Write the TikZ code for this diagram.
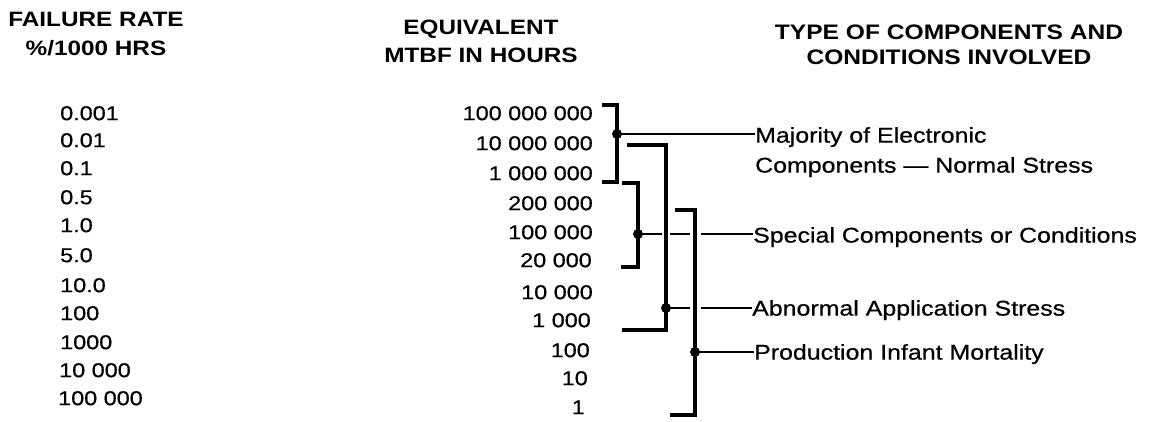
\documentclass[tikz,border=0pt]{standalone}
\usepackage{fontspec}
\setmainfont{Liberation Sans}[FakeStretch=1.17, UprightFeatures={FakeBold=0.6}]
\usetikzlibrary{positioning}

\begin{document}
\begin{tikzpicture}[x=1pt, y=-1pt,
    head/.style={align=center, inner sep=0pt, font=\bfseries\fontsize{20.8}{29}\selectfont},
    rate/.style={anchor=west, inner sep=0pt, text height=14.3pt, text depth=0pt, font=\fontsize{20}{24}\selectfont},
    mtbf/.style={rate, anchor=east},
    lab/.style={anchor=west, inner sep=0pt, text height=15.2pt, text depth=0pt, font=\fontsize{21.3}{25}\selectfont},
    brace/.style={line width=3.2pt},
    gapbrace/.style={brace, preaction={draw=white, line width=#1}},
    link/.style={line width=2pt},
    dot/.style={circle, fill, inner sep=0pt, minimum size=10pt}]
    \path[use as bounding box, fill=white] (0,0) rectangle (1152,422);

    % column heads
    \node (Hrate) [head] at (96,34.5) {FAILURE RATE\\\%/1000 HRS};
    \node (Hmtbf) [head, font=\bfseries\fontsize{20.8}{28}\selectfont] at (481,41) {EQUIVALENT\\MTBF IN HOURS};
    \node (Htype) [head, font=\bfseries\fontsize{21}{25}\selectfont] at (949,44.5) {TYPE OF COMPONENTS AND\\CONDITIONS INVOLVED};

    % failure rate column
    \node (R1) [rate] at (60,113) {0.001};
    \node (R2) [rate] at (60,140) {0.01};
    \node (R3) [rate] at (60,168) {0.1};
    \node (R4) [rate] at (60,197) {0.5};
    \node (R5) [rate] at (60,225) {1.0};
    \node (R6) [rate] at (60,255) {5.0};
    \node (R7) [rate] at (60,285) {10.0};
    \node (R8) [rate] at (60,313) {100};
    \node (R9) [rate] at (60,342) {1000};
    \node (R10) [rate] at (59,370) {10 000};
    \node (R11) [rate] at (58,398) {100 000};

    % mtbf column
    \node (M1) [mtbf] at (593,113) {100 000 000};
    \node (M2) [mtbf] at (593,143) {10 000 000};
    \node (M3) [mtbf] at (593,173) {1 000 000};
    \node (M4) [mtbf] at (593,203) {200 000};
    \node (M5) [mtbf] at (593,232) {100 000};
    \node (M6) [mtbf] at (592,260) {20 000};
    \node (M7) [mtbf] at (593,292) {10 000};
    \node (M8) [mtbf] at (591,320) {1 000};
    \node (M9) [mtbf] at (590,350) {100};
    \node (M10) [mtbf] at (588,378) {10};
    \node (M11) [mtbf] at (585,407) {1};

    % component types
    \node (Lmaj) [lab] at (755,135) {Majority of Electronic};
    \node (Lmaj2) [lab] at (755,165) {Components — Normal Stress};
    \node (Lspe) [lab] at (753,235) {Special Components or Conditions};
    \node (Labn) [lab] at (752,308) {Abnormal Application Stress};
    \node (Lpro) [lab] at (754,352) {Production Infant Mortality};

    \coordinate (Pmaj) at (617,134);
    \coordinate (Pspe) at (638,234);
    \coordinate (Pabn) at (666,308);
    \coordinate (Ppro) at (695,352);

    % brackets and leaders
    \draw[link] (Pspe) -- (Pspe -| Lspe.west);
    \draw[gapbrace=7.5pt] (627,145) -| (Pabn) |- (622,330);
    \draw[link] (Pabn) -- (Pabn -| Labn.west);
    \draw[gapbrace=11pt] (675,210) -| (Ppro) |- (670,415);
    \draw[link] (Ppro) -- (Ppro -| Lpro.west);
    \draw[link] (Pmaj) -- (Pmaj -| Lmaj.west);
    \draw[brace] (602,105) -| (Pmaj) |- (602,182);
    \draw[brace] (622,183) -| (Pspe) |- (621,267);

    \node [dot] at (Pmaj) {};
    \node [dot] at (Pspe) {};
    \node [dot] at (Pabn) {};
    \node [dot] at (Ppro) {};
\end{tikzpicture}
\end{document}
